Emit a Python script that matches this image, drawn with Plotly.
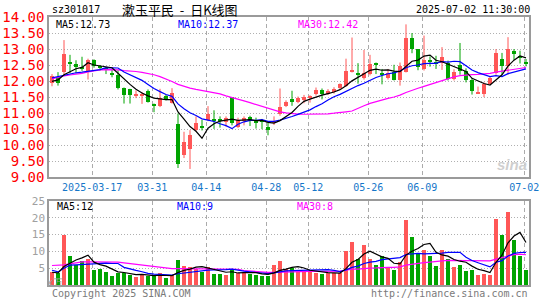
import plotly.graph_objects as go

# ---------------- data ----------------
dates = [
    "2025-03-06", "2025-03-07", "2025-03-10", "2025-03-11", "2025-03-12", "2025-03-13", "2025-03-14",
    "2025-03-17", "2025-03-18", "2025-03-19", "2025-03-20", "2025-03-21", "2025-03-24", "2025-03-25",
    "2025-03-26", "2025-03-27", "2025-03-28", "2025-03-31", "2025-04-01", "2025-04-02", "2025-04-03",
    "2025-04-07", "2025-04-08", "2025-04-09", "2025-04-10", "2025-04-11", "2025-04-14", "2025-04-15",
    "2025-04-16", "2025-04-17", "2025-04-18", "2025-04-21", "2025-04-22", "2025-04-23", "2025-04-24",
    "2025-04-25", "2025-04-28", "2025-04-29", "2025-04-30", "2025-05-06", "2025-05-07", "2025-05-08",
    "2025-05-09", "2025-05-12", "2025-05-13", "2025-05-14", "2025-05-15", "2025-05-16", "2025-05-19",
    "2025-05-20", "2025-05-21", "2025-05-22", "2025-05-23", "2025-05-26", "2025-05-27", "2025-05-28",
    "2025-05-29", "2025-05-30", "2025-06-03", "2025-06-04", "2025-06-05", "2025-06-06", "2025-06-09",
    "2025-06-10", "2025-06-11", "2025-06-12", "2025-06-13", "2025-06-16", "2025-06-17", "2025-06-18",
    "2025-06-19", "2025-06-20", "2025-06-23", "2025-06-24", "2025-06-25", "2025-06-26", "2025-06-27",
    "2025-06-30", "2025-07-01", "2025-07-02",
]

opens = [11.94, 12.12, 12.28, 12.60, 12.52, 12.44, 12.30, 12.66, 12.46, 12.41,
         12.26, 12.18, 11.79, 11.74, 11.55, 11.53, 11.69, 11.28, 11.21, 11.53,
         11.33, 10.66, 9.69, 9.89, 10.48, 10.58, 10.79, 10.81, 10.83, 10.72,
         11.49, 10.57, 10.75, 10.88, 10.77, 10.77, 10.58, 10.71, 10.97, 11.23,
         11.44, 11.35, 11.41, 11.49, 11.59, 11.72, 11.60, 11.65, 11.78, 11.86,
         12.30, 12.26, 12.10, 12.22, 12.54, 12.23, 12.10, 12.30, 12.04, 12.30,
         13.36, 13.00, 12.37, 12.65, 12.61, 12.56, 12.56, 12.06, 12.50, 12.32,
         12.02, 11.62, 11.60, 11.92, 12.25, 12.69, 12.46, 12.93, 12.79, 12.61]
highs = [12.22, 12.28, 13.28, 12.82, 12.65, 12.76, 12.70, 12.68, 12.50, 12.44,
         12.35, 12.34, 11.80, 11.76, 11.71, 11.66, 11.74, 11.30, 11.76, 11.57,
         11.78, 10.99, 10.42, 10.47, 10.90, 10.79, 11.22, 11.09, 10.90, 10.90,
         11.50, 10.86, 10.90, 10.92, 10.86, 10.82, 10.70, 10.90, 11.77, 11.40,
         11.70, 11.52, 11.57, 11.56, 11.80, 11.77, 11.75, 11.81, 11.93, 12.70,
         13.36, 12.56, 12.97, 12.82, 12.58, 12.38, 12.38, 12.51, 12.58, 13.77,
         13.50, 13.00, 13.42, 12.77, 12.79, 13.06, 12.64, 12.37, 13.19, 12.40,
         12.09, 11.83, 11.96, 12.15, 13.00, 12.88, 13.37, 13.00, 12.95, 12.69]
lows = [11.84, 11.86, 12.20, 12.25, 12.25, 12.32, 12.05, 12.42, 12.33, 12.22,
        12.12, 11.74, 11.30, 11.30, 11.47, 11.29, 11.33, 11.03, 11.19, 11.40,
        11.30, 9.29, 9.60, 9.26, 10.43, 10.46, 10.75, 10.51, 10.55, 10.58,
        10.62, 10.54, 10.62, 10.60, 10.52, 10.50, 10.31, 10.63, 10.92, 11.19,
        11.23, 11.31, 11.31, 11.33, 11.55, 11.43, 11.57, 11.61, 11.73, 11.82,
        12.27, 11.92, 12.05, 12.18, 12.22, 11.90, 12.05, 12.02, 11.86, 12.27,
        12.87, 12.34, 12.33, 12.45, 12.38, 12.35, 12.02, 12.02, 12.20, 11.96,
        11.58, 11.60, 11.50, 11.90, 12.20, 12.20, 12.20, 12.66, 12.55, 12.46]
closes = [12.17, 11.93, 12.84, 12.53, 12.46, 12.38, 12.66, 12.48, 12.42, 12.34,
          12.19, 11.80, 11.58, 11.58, 11.58, 11.60, 11.36, 11.23, 11.47, 11.44,
          11.62, 9.43, 10.10, 10.33, 10.70, 10.54, 10.99, 10.78, 10.76, 10.85,
          10.70, 10.80, 10.86, 10.79, 10.69, 10.74, 10.49, 10.74, 11.18, 11.35,
          11.34, 11.46, 11.51, 11.53, 11.72, 11.60, 11.70, 11.75, 11.90, 12.33,
          12.36, 12.21, 12.24, 12.54, 12.51, 12.20, 12.26, 12.04, 12.46, 13.34,
          13.00, 12.44, 12.67, 12.61, 12.54, 12.76, 12.07, 12.30, 12.33, 12.05,
          11.68, 11.65, 11.92, 12.09, 12.87, 12.46, 13.00, 12.85, 12.75, 12.56]
volumes = [4.0, 3.7, 15.0, 8.6, 6.0, 7.0, 7.8, 4.6, 4.9, 3.8,
           2.6, 3.7, 3.6, 3.0, 2.5, 2.9, 2.8, 2.7, 3.6, 2.0,
           2.9, 7.5, 5.8, 5.4, 4.9, 3.8, 5.4, 3.4, 3.4, 3.0,
           4.5, 3.6, 3.8, 3.4, 3.1, 2.7, 2.8, 6.0, 7.2, 4.9,
           5.2, 4.0, 4.0, 3.9, 3.5, 3.3, 3.6, 3.7, 3.7, 10.0,
           12.9, 7.7, 11.8, 7.8, 6.0, 8.5, 5.5, 4.5, 6.8, 19.2,
           14.2, 9.6, 10.5, 8.5, 5.8, 10.3, 7.8, 5.5, 6.0, 4.3,
           4.5, 3.1, 3.4, 3.1, 19.7, 15.0, 21.6, 13.5, 8.5, 4.6]

# moving-average values at the start of the window (they depend on earlier days)
ma5_head = [11.99, 12.04, 12.20, 12.30]
ma10_head = [12.10, 12.14, 12.19, 12.23, 12.26, 12.28, 12.31, 12.34, 12.36]
ma30_head = [12.07, 12.12, 12.16, 12.19, 12.21, 12.24, 12.29, 12.33, 12.35, 12.36,
             12.36, 12.35, 12.33, 12.32, 12.30, 12.27, 12.24, 12.20, 12.14, 12.07,
             11.99, 11.90, 11.83, 11.78, 11.74, 11.71, 11.68, 11.65, 11.60]
vma5_head = [3.8, 3.6, 5.5, 6.6]
vma10_head = [4.4, 3.9, 5.0, 5.9, 6.0, 6.1, 6.3, 6.4, 6.5]
vma30_head = [5.8, 5.8, 6.0, 6.3, 6.6, 6.9, 6.9, 6.9, 6.9, 6.9,
              6.9, 6.8, 6.6, 6.4, 6.2, 6.0, 5.7, 5.4, 5.2, 5.0,
              4.9, 4.9, 4.8, 4.8, 4.8, 4.8, 4.8, 4.8, 4.8]

tick_dates = ["2025-03-17", "2025-03-31", "2025-04-14", "2025-04-28",
              "2025-05-12", "2025-05-26", "2025-06-09", "2025-07-02"]
tick_text = ["2025-03-17", "03-31", "04-14", "04-28", "05-12", "05-26", "06-09", "07-02"]
price_ticks = [9.0, 9.5, 10.0, 10.5, 11.0, 11.5, 12.0, 12.5, 13.0, 13.5, 14.0]
vol_ticks = [5, 10, 15, 20, 25]

# ---------------- helpers ----------------
def moving(vals, n, head):
    out = list(head)
    for i in range(n - 1, len(vals)):
        out.append(sum(vals[i - n + 1:i + 1]) / n)
    return out

RED = "#ff5757"
GREEN = "#00a400"
MONO = "DejaVu Sans Mono"

W, H = 545, 300
L, R, T, B = 49, 16, 17, 15
PW, PH = W - L - R, H - T - B

def px(x):
    return (x - L) / PW

def py(y):
    return (H - B - y) / PH

idx = list(range(len(dates)))
up = [c >= o for o, c in zip(opens, closes)]
colors = [RED if u else GREEN for u in up]

fig = go.Figure()

# candle bodies
fig.add_trace(go.Bar(
    x=idx, y=[max(abs(c - o), 0.03) for o, c in zip(opens, closes)],
    base=[min(o, c) for o, c in zip(opens, closes)],
    width=0.78, marker=dict(color=colors, line=dict(width=0)),
    xaxis="x", yaxis="y", hoverinfo="skip", showlegend=False))

# volume bars
fig.add_trace(go.Bar(
    x=idx, y=volumes, width=0.78, marker=dict(color=colors, line=dict(width=0)),
    xaxis="x2", yaxis="y2", hoverinfo="skip", showlegend=False))

# wicks
for col, flag in ((RED, True), (GREEN, False)):
    wx, wy = [], []
    for i in idx:
        if up[i] == flag:
            wx += [i, i, None]
            wy += [lows[i], highs[i], None]
    fig.add_trace(go.Scatter(x=wx, y=wy, mode="lines", line=dict(color=col, width=1),
                             xaxis="x", yaxis="y", hoverinfo="skip", showlegend=False))

# moving averages
for n, head, col in ((30, ma30_head, "#ff00ff"), (10, ma10_head, "#0000ff"), (5, ma5_head, "#000000")):
    fig.add_trace(go.Scatter(x=idx, y=moving(closes, n, head), mode="lines",
                             line=dict(color=col, width=1.2), xaxis="x", yaxis="y",
                             hoverinfo="skip", showlegend=False))
for n, head, col in ((30, vma30_head, "#ff00ff"), (10, vma10_head, "#0000ff"), (5, vma5_head, "#000000")):
    fig.add_trace(go.Scatter(x=idx, y=moving(volumes, n, head), mode="lines",
                             line=dict(color=col, width=1.2), xaxis="x2", yaxis="y2",
                             hoverinfo="skip", showlegend=False))

tickvals = [dates.index(d) - 0.3 for d in tick_dates]
axis_line = dict(showline=True, mirror=True, linecolor="#9a9a9a", linewidth=1.5,
                 zeroline=False, ticks="", automargin=False)

fig.update_layout(
    width=W, height=H, margin=dict(l=L, r=R, t=T, b=B, autoexpand=False),
    paper_bgcolor="white", plot_bgcolor="white", barmode="overlay", bargap=0,
    showlegend=False, hovermode=False,
    xaxis=dict(domain=[0, 1], range=[-0.5, len(dates) - 0.5], anchor="y",
               tickvals=tickvals, ticktext=tick_text,
               tickfont=dict(family=MONO, size=10, color="#1677c9"),
               showgrid=True, gridcolor="#ababab", gridwidth=1, griddash="4px,3px", **axis_line),
    yaxis=dict(domain=[py(177.3), 1], range=[9, 14], anchor="x",
               tickvals=price_ticks, ticktext=["%.2f" % v for v in price_ticks],
               tickfont=dict(family=MONO, size=14, color="#ff0000"),
               showgrid=True, gridcolor="#b0b0b0", gridwidth=1, griddash="1px,2px", **axis_line),
    xaxis2=dict(domain=[0, 1], range=[-0.5, len(dates) - 0.5], anchor="y2",
                tickvals=tickvals, showticklabels=False,
                showgrid=True, gridcolor="#ababab", gridwidth=1, griddash="4px,3px", **axis_line),
    yaxis2=dict(domain=[0, py(201)], range=[0, 25], anchor="x2",
                tickvals=vol_ticks, ticktext=[str(v) for v in vol_ticks],
                tickfont=dict(family=MONO, size=11, color="#a0a0a0"),
                showgrid=True, gridcolor="#b0b0b0", gridwidth=1, griddash="1px,2px", **axis_line),
)

def note(text, x, y, color="#000000", size=10, anchor="left", family=MONO, **kw):
    fig.add_annotation(text=text, x=px(x), y=py(y), xref="paper", yref="paper",
                       xanchor=anchor, yanchor="middle", showarrow=False,
                       font=dict(family=family, size=size, color=color), **kw)

note("sz301017", 50, 10)
note("漱玉平民\u00a0 -\u00a0 日K线图", 120, 9.5, size=13, family="Noto Sans CJK SC")
note("2025-07-02 11:30:00", 532, 10, anchor="right")
note("MA5:12.73", 54, 24.5)
note("MA10:12.37", 176, 24.5, color="#0000ff")
note("MA30:12.42", 296, 24.5, color="#ff00ff")
note("MA5:12", 55, 207)
note("MA10:9", 175, 207, color="#0000ff")
note("MA30:8", 295, 207, color="#ff00ff")
note("x万", 45, 282.5, color="#a0a0a0", size=10)
note("Copyright 2025 SINA.COM", 50, 293.5, color="#7a7a7a")
note("http://finance.sina.com.cn", 530, 293.5, color="#7a7a7a", anchor="right")
note("<b><i>sina</i></b>", 512, 164, color="#cfcfcf", size=15, anchor="center", family="Liberation Sans")

fig.write_html("out.html", config={"displayModeBar": False},
               post_script="document.body.style.margin='0';document.body.style.padding='0';")
